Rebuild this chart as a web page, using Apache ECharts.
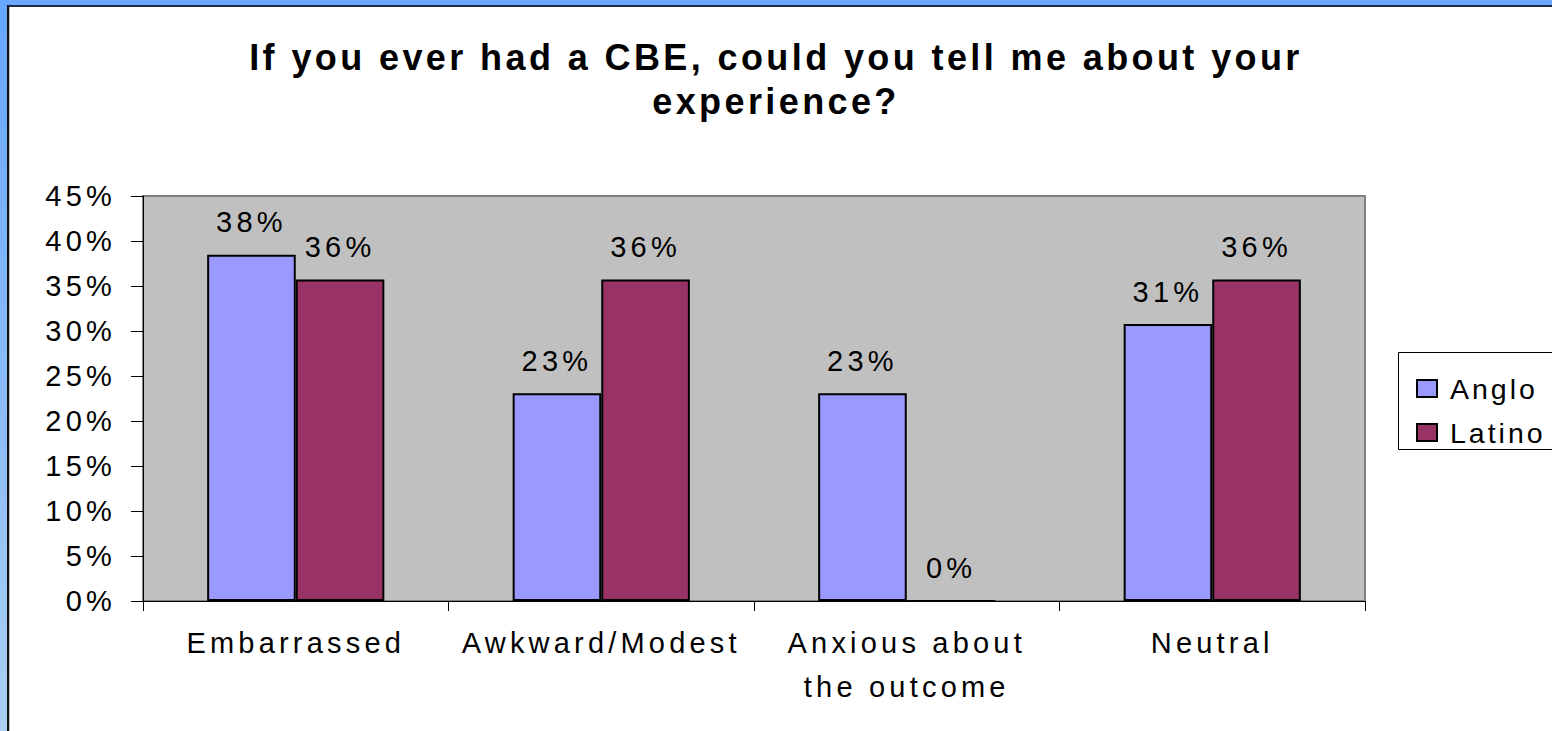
<!DOCTYPE html>
<html>
<head>
<meta charset="utf-8">
<script src="https://cdn.jsdelivr.net/npm/echarts@6/dist/echarts.min.js"></script>
<style>
  html, body { margin: 0; padding: 0; background: #fff; }
  #chart { width: 1552px; height: 731px; }
  #chart text { letter-spacing: 4.2px; }
  #chart text[style*="bold"] { letter-spacing: 3.4px; }
  #chart text[style*="28.5px"] { letter-spacing: 3px; }
</style>
</head>
<body>
<div id="chart"></div>
<script>
const titleText = 'If you ever had a CBE, could you tell me about your\nexperience?';
const categories = ['Embarrassed', 'Awkward/Modest', 'Anxious about\nthe outcome', 'Neutral'];
const seriesNames = ['Anglo', 'Latino'];
const anglo = [38.46, 23.08, 23.08, 30.77];
const latino = [35.71, 35.71, 0, 35.71];
const yMin = 0, yMax = 45, yStep = 5;

const FONT = 'Liberation Sans, Arial, sans-serif';
const chart = echarts.init(document.getElementById('chart'), null, { renderer: 'svg' });

const pctLabel = {
  show: true,
  position: 'top',
  distance: 18,
  color: '#000',
  fontFamily: FONT,
  fontSize: 29,
  formatter: p => Math.round(p.value) + '%'
};

chart.setOption({
  animation: false,
  backgroundColor: '#ffffff',
  textStyle: { fontFamily: FONT },
  graphic: [
    { type: 'rect', z: -10, shape: { x: 0, y: 0, width: 1552, height: 6 }, style: { fill: '#6aa8ff' } },
    { type: 'rect', z: -10, shape: { x: 0, y: 0, width: 8, height: 731 },
      style: { fill: new echarts.graphic.LinearGradient(0, 0, 0, 1, [
        { offset: 0, color: '#66a6ff' }, { offset: 1, color: '#aacff2' }]) } },
    { type: 'rect', z: -9, shape: { x: 7, y: 5, width: 1545, height: 2 }, style: { fill: '#1f2d48' } },
    { type: 'rect', z: -9, shape: { x: 7, y: 5, width: 2, height: 726 }, style: { fill: '#111' } },
    { type: 'rect', z: -9, shape: { x: 9, y: 7, width: 1, height: 724 }, style: { fill: '#c0c0c0' } },
    { type: 'rect', z: 0, shape: { x: 1398.5, y: 352.5, width: 170, height: 97 },
      style: { fill: '#fff', stroke: '#000', lineWidth: 1 } }
  ],
  title: {
    text: titleText,
    left: 'center',
    top: 35,
    padding: 0,
    textStyle: { fontFamily: FONT, fontWeight: 'bold', fontSize: 36, lineHeight: 44, color: '#000' }
  },
  legend: {
    orient: 'vertical',
    left: 1411,
    top: 369,
    itemWidth: 20,
    itemHeight: 17,
    itemGap: 15,
    icon: 'rect',
    data: seriesNames,
    itemStyle: { borderColor: '#000', borderWidth: 2 },
    textStyle: { fontFamily: FONT, fontSize: 28.5, lineHeight: 29, color: '#000', padding: [0, 0, 0, 8] }
  },
  grid: {
    left: 143, top: 196, width: 1222, height: 405,
    show: true, backgroundColor: '#c0c0c0', borderColor: '#808080', borderWidth: 2
  },
  xAxis: {
    type: 'category',
    data: categories,
    axisLine: { lineStyle: { color: '#000', width: 1 } },
    axisTick: { show: true, length: 10, lineStyle: { color: '#000' } },
    axisLabel: { color: '#000', fontFamily: FONT, fontSize: 29, lineHeight: 44, margin: 20, interval: 0 }
  },
  yAxis: {
    type: 'value',
    min: yMin, max: yMax, interval: yStep,
    axisLine: { show: true, lineStyle: { color: '#000', width: 1 } },
    axisTick: { show: true, length: 12, lineStyle: { color: '#000' } },
    splitLine: { show: false },
    axisLabel: { color: '#000', fontFamily: FONT, fontSize: 29, margin: 27, formatter: '{value}%' }
  },
  series: [
    { name: seriesNames[0], type: 'bar', data: anglo, barGap: '0%', barCategoryGap: '42%',
      itemStyle: { color: '#9999ff', borderColor: '#000', borderWidth: 2 }, label: pctLabel },
    { name: seriesNames[1], type: 'bar', data: latino, barGap: '0%', barCategoryGap: '42%',
      itemStyle: { color: '#993366', borderColor: '#000', borderWidth: 2 }, label: pctLabel }
  ]
});
</script>
</body>
</html>
